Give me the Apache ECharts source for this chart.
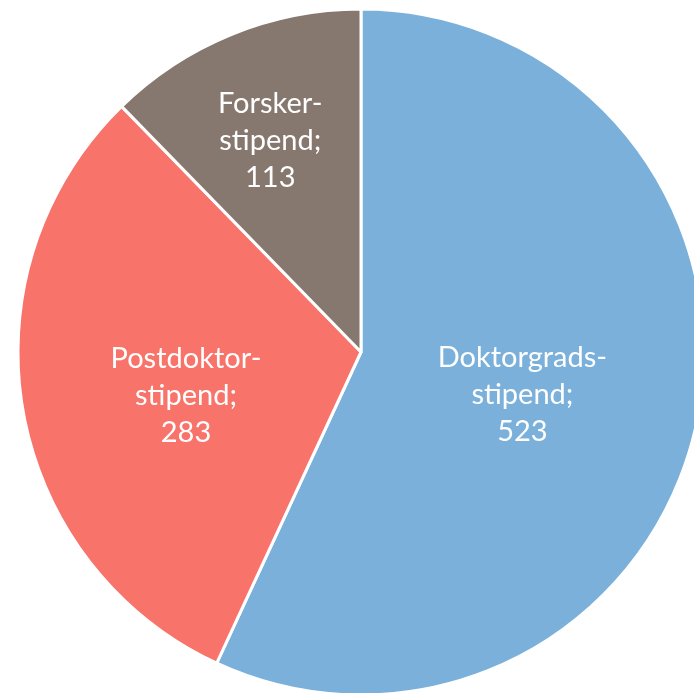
<!DOCTYPE html>
<html><head><meta charset="utf-8">
<script src="https://cdn.jsdelivr.net/npm/echarts@6/dist/echarts.min.js"></script>
<style>html,body{margin:0;padding:0;background:#fff}#c{width:694px;height:693px}</style>
</head><body><div id="c"></div>
<script>
const categories = ['Doktorgrads-\nstipend', 'Postdoktor-\nstipend', 'Forsker-\nstipend'];
const values = [523, 283, 113];
const colors = ['#7AB0DA', '#F8736A', '#86786F'];
// label nudges [dx, dy] to match reference placement
const labelNudges = [[-9, 5], [-3, 14], [-25, -50]];
const chart = echarts.init(document.getElementById('c'));
chart.setOption({
  animation: false,
  series: [{
    type: 'pie',
    center: [361, 352],
    radius: [0, 343],
    startAngle: 90,
    clockwise: true,
    data: categories.map((n, i) => ({
      name: n, value: values[i],
      itemStyle: { color: colors[i] }
    })),
    itemStyle: { borderColor: '#fff', borderWidth: 3 },
    label: {
      position: 'inside',
      formatter: '{b};\n{c}',
      color: '#fff',
      fontFamily: 'Lato',
      fontSize: 29,
      lineHeight: 37,
      align: 'center'
    },
    labelLayout: function (p) {
      const n = labelNudges[p.dataIndex];
      return { dx: n[0], dy: n[1] };
    },
    labelLine: { show: false },
    emphasis: { disabled: true }
  }]
});
</script></body></html>
